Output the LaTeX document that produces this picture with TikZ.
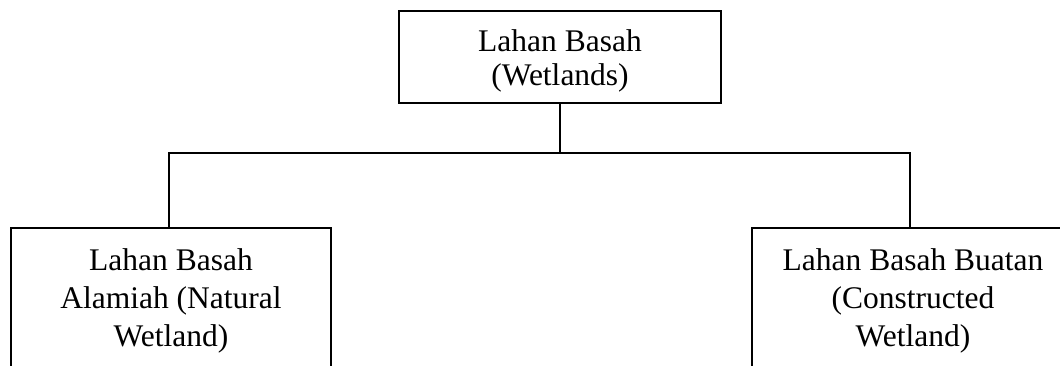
\documentclass[tikz,border=0pt]{standalone}
\usepackage{fontspec}
\setmainfont{Liberation Serif}
\begin{document}
\begin{tikzpicture}[x=1pt, y=-1pt,
  box/.style={draw, line width=1.9pt, rectangle, inner sep=0pt, align=center,
    minimum width=322pt},
  topfont/.style={font={\fontsize{31.5}{33.3}\selectfont\lineskiplimit=-60pt}},
  subfont/.style={font={\fontsize{31.5}{38.3}\selectfont\lineskiplimit=-60pt}},
  link/.style={line width=1.8pt}]
  \useasboundingbox (0,0) rectangle (1060,365);
  \clip (0,0) rectangle (1060,365);

  % root of the classification
  \node[box, topfont, minimum height=92pt] (root) at (560,57)
    {\rule{0pt}{32.7pt}Lahan Basah\\(Wetlands)\rule[-10pt]{0pt}{10pt}};

  % the two kinds of wetland (boxes run past the lower edge)
  \node[box, subfont, minimum width=320pt, minimum height=142pt] (natural) at (171,299)
    {\rule{0pt}{28.7pt}Lahan Basah\\Alamiah (Natural\\Wetland)\rule[-10pt]{0pt}{10pt}};
  \node[box, subfont, minimum height=142pt] (built) at (913,299)
    {\rule{0pt}{28.7pt}Lahan Basah Buatan\\(Constructed\\Wetland)\rule[-10pt]{0pt}{10pt}};

  % branching connector
  \coordinate (busL) at (169,152.7);
  \coordinate (busR) at (910,152.7);
  \draw[link] (root.south) -- (root.south |- busL);
  \draw[link] (busL |- natural.north) -- (busL) -- (busR) -- (busR |- built.north);
\end{tikzpicture}
\end{document}
